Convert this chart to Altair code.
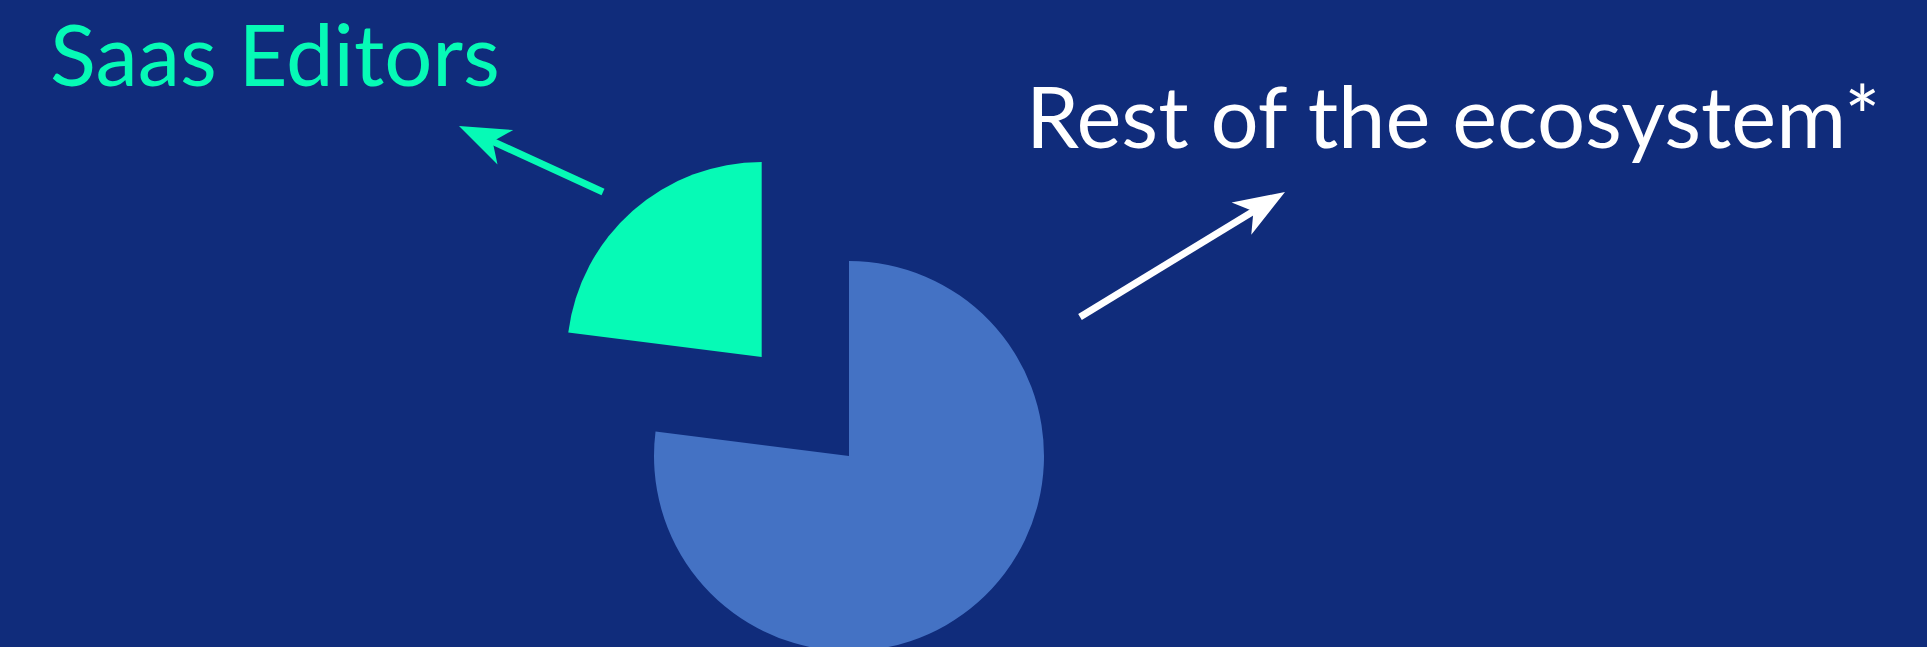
import math
import altair as alt
import pandas as pd

# ---- data ----
categories = ["Rest of the ecosystem*", "Saas Editors"]
shares = [77, 23]
slice_colors = ["#4472C4", "#06FAB6"]
exploded_category = "Saas Editors"

label_texts = ["Saas Editors", "Rest of the ecosystem*"]
label_colors = ["#06FAB6", "#FFFFFF"]
label_x = [50, 1026]
label_y = [86, 148]

arrow_tail_x = [603, 1080]
arrow_tail_y = [192, 317]
arrow_tip_x = [459, 1285]
arrow_tip_y = [126, 192]
arrow_colors = ["#06FAB6", "#FFFFFF"]

# ---- layout / style constants ----
W, H = 1927, 647
BG = "#102C7B"
CX, CY = 849, 456
RADIUS = 195
EXPLODE = 132
HEAD_HALF = 25.5  # px per symbol unit
ARROW_PATH = "M0,-1 L0.74,1 L0,0.45 L-0.74,1 Z"

pie_df = pd.DataFrame({"category": categories, "value": shares,
                       "order": list(range(len(categories)))})

pie = (
    alt.Chart(pie_df)
    .transform_joinaggregate(total="sum(value)")
    .transform_window(cum="sum(value)", sort=[alt.SortField("order")], frame=[None, 0])
    .transform_calculate(
        t0="2*PI*(datum.cum - datum.value)/datum.total",
        t1="2*PI*datum.cum/datum.total",
        mid="(datum.t0 + datum.t1)/2",
        off=f"datum.category == '{exploded_category}' ? {EXPLODE} : 0",
        cx=f"{CX} + datum.off*sin(datum.mid)",
        cy=f"{CY} - datum.off*cos(datum.mid)",
    )
    .mark_arc(radius=RADIUS)
    .encode(
        x=alt.X("cx:Q", scale=None, axis=None),
        y=alt.Y("cy:Q", scale=None, axis=None),
        theta=alt.Theta("t0:Q", scale=None),
        theta2="t1:Q",
        color=alt.Color("category:N",
                        scale=alt.Scale(domain=categories, range=slice_colors),
                        legend=None),
    )
)

# arrows
rows = []
for tx, ty, hx, hy, c in zip(arrow_tail_x, arrow_tail_y, arrow_tip_x, arrow_tip_y, arrow_colors):
    dx, dy = hx - tx, hy - ty
    L = math.hypot(dx, dy)
    ux, uy = dx / L, dy / L
    ang = math.degrees(math.atan2(dx, -dy)) % 360
    rows.append({
        "x": tx, "y": ty,
        "x2": hx - ux * 34, "y2": hy - uy * 34,
        "hx": hx - ux * HEAD_HALF, "hy": hy - uy * HEAD_HALF,
        "angle": ang, "c": c,
    })
arrow_df = pd.DataFrame(rows)

shafts = alt.Chart(arrow_df).mark_rule(strokeWidth=7, strokeCap="butt").encode(
    x=alt.X("x:Q", scale=None, axis=None),
    y=alt.Y("y:Q", scale=None, axis=None),
    x2="x2:Q",
    y2="y2:Q",
    color=alt.Color("c:N", scale=None),
)

heads = alt.Chart(arrow_df).mark_point(
    shape=ARROW_PATH, filled=True, size=(2 * HEAD_HALF) ** 2, opacity=1, strokeWidth=0
).encode(
    x=alt.X("hx:Q", scale=None, axis=None),
    y=alt.Y("hy:Q", scale=None, axis=None),
    angle=alt.Angle("angle:Q", scale=None),
    color=alt.Color("c:N", scale=None),
)

label_df = pd.DataFrame({"text": label_texts, "c": label_colors, "x": label_x, "y": label_y})
labels = alt.Chart(label_df).mark_text(
    font="Lato", fontSize=85, align="left", baseline="alphabetic"
).encode(
    x=alt.X("x:Q", scale=None, axis=None),
    y=alt.Y("y:Q", scale=None, axis=None),
    text="text:N",
    color=alt.Color("c:N", scale=None),
)

chart = (
    alt.layer(pie, shafts, heads, labels)
    .properties(width=W, height=H, padding=0, autosize=alt.AutoSizeParams(type="none"),
                background=BG)
    .configure_view(strokeWidth=0)
)

chart.save("out.html", embed_options={"renderer": "svg", "actions": False})
